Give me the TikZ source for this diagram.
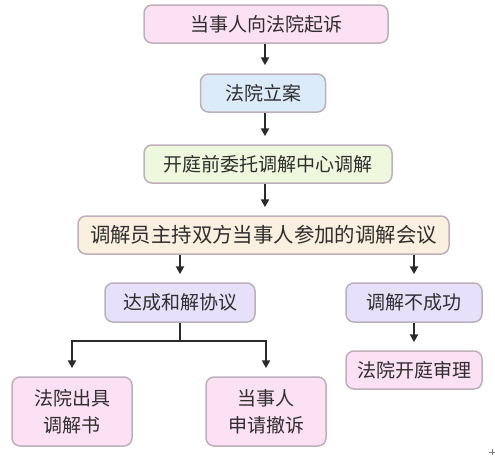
\documentclass[tikz,border=0pt]{standalone}
\usepackage{fontspec}
\setmainfont{Noto Sans CJK SC}
\usetikzlibrary{arrows.meta}
\definecolor{pinkf}{HTML}{FCE0F3}
\definecolor{bluef}{HTML}{DCEBFA}
\definecolor{greenf}{HTML}{EEF8DC}
\definecolor{beigef}{HTML}{FBF0DF}
\definecolor{lavf}{HTML}{E7E0FA}
\definecolor{bord}{HTML}{BDB0BA}
\definecolor{txt}{HTML}{2E2E2E}
\definecolor{lin}{HTML}{2A2A2A}
\tikzset{
  box/.style={draw=bord, line width=1.5pt, rounded corners=8pt, text=txt,
    font=\fontsize{19}{27}\selectfont, align=center, inner sep=0pt},
  arr/.style={draw=lin, line width=2pt, -{Triangle[length=8pt,width=8pt]}, shorten >=8pt},
  ln/.style={draw=lin, line width=2pt}
}
\begin{document}
\begin{tikzpicture}[x=1pt,y=-1pt]
\useasboundingbox (0,0) rectangle (495,459);
\node[box, fill=pinkf, minimum width=244pt, minimum height=38pt] (b1) at (266,24) {当事人向法院起诉};
\node[box, fill=bluef, minimum width=125pt, minimum height=38pt] (b2) at (263,93) {法院立案};
\node[box, fill=greenf, minimum width=248pt, minimum height=38pt] (b3) at (268,164) {开庭前委托调解中心调解};
\node[box, fill=beigef, minimum width=371pt, minimum height=38pt, font=\fontsize{20.4}{27}\selectfont] (b4) at (263.5,235) {调解员主持双方当事人参加的调解会议};
\node[box, fill=lavf, minimum width=150pt, minimum height=39pt] (b5) at (180,302.5) {达成和解协议};
\node[box, fill=lavf, minimum width=136pt, minimum height=39pt] (b6) at (414,302.5) {调解不成功};
\node[box, fill=pinkf, minimum width=136pt, minimum height=38pt] (b7) at (414,370) {法院开庭审理};
\node[box, fill=pinkf, minimum width=120pt, minimum height=69pt] (b8) at (72,411.5) {法院出具\\调解书};
\node[box, fill=pinkf, minimum width=120pt, minimum height=69pt] (b9) at (266,411.5) {当事人\\申请撤诉};
\coordinate (x1) at (265,0);
\draw[arr] (b1.south -| x1) -- (b2.north -| x1);
\draw[arr] (b2.south -| x1) -- (b3.north -| x1);
\draw[arr] (b3.south -| x1) -- (b4.north -| x1);
\draw[arr] (b4.south -| b5.north) -- (b5.north);
\draw[arr] (b4.south -| b6.north) -- (b6.north);
\draw[arr] (b6.south) -- (b7.north);
\coordinate (j) at (180,341);
\draw[ln] (b5.south) -- (j);
\draw[arr] (j) -| (b8.north);
\draw[arr] (j) -| (b9.north);
\draw[gray, line width=0.8pt] (489,452) -- (495,452) (492,449) -- (492,455);
\end{tikzpicture}
\end{document}
